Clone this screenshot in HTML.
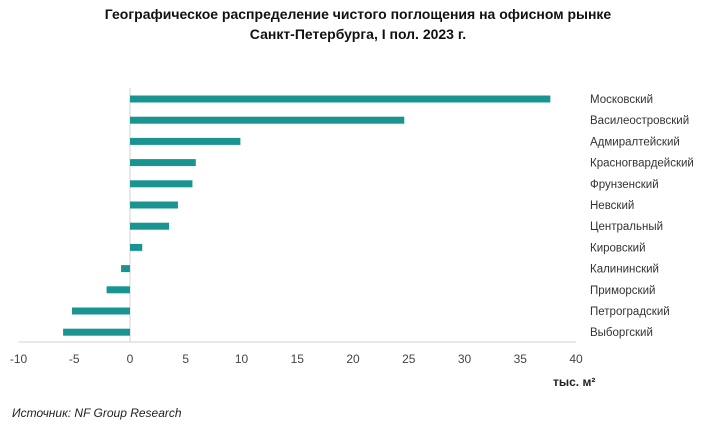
<!DOCTYPE html>
<html><head><meta charset="utf-8"><style>
body{margin:0;background:#fff;width:717px;height:426px;overflow:hidden;font-family:"Liberation Sans",sans-serif}
</style></head><body>
<svg width="717" height="426">
<text x="358" y="19" text-anchor="middle" font-size="14" font-weight="bold" fill="#111">Географическое распределение чистого поглощения на офисном рынке</text>
<text x="358" y="39" text-anchor="middle" font-size="14" font-weight="bold" fill="#111">Санкт-Петербурга, I пол. 2023 г.</text>
<g id="plot"></g>
<text x="553" y="386" font-size="12" font-weight="bold" fill="#222">тыс. м²</text>
<text x="12" y="417" font-size="12" font-style="italic" fill="#222">Источник: NF Group Research</text>
</svg>
<script>
const categories=["Московский","Василеостровский","Адмиралтейский","Красногвардейский","Фрунзенский","Невский","Центральный","Кировский","Калининский","Приморский","Петроградский","Выборгский"];
const values=[37.7,24.6,9.9,5.9,5.6,4.3,3.5,1.1,-0.8,-2.1,-5.2,-6.0];
const ticks=[-10,-5,0,5,10,15,20,25,30,35,40];
const NS="http://www.w3.org/2000/svg";
const g=document.getElementById('plot');
const x=v=>130+v*11.15;
const y=i=>99+i*21.2;
function mk(t,a){const e=document.createElementNS(NS,t);for(const k in a)e.setAttribute(k,a[k]);g.appendChild(e);return e;}
let ax=mk('line',{x1:x(-10),x2:x(40),y1:342,y2:342,stroke:'#d0d0d0'});


let zl=mk('line',{x1:x(0),x2:x(0),y1:88,y2:342,stroke:'#d0d0d0'});


ticks.forEach(t=>{const e=mk('text',{x:x(t),y:363,'text-anchor':'middle','font-size':12,fill:'#444'});e.textContent=t;

});
categories.forEach((c,i)=>{const v=values[i];
const b=mk('rect',{x:Math.min(x(0),x(v)),y:y(i)-3.5,width:Math.abs(x(v)-x(0)),height:7,fill:'#1a9490'});


const l=mk('text',{x:590,y:y(i)+4,'font-size':11.5,fill:'#333'});l.textContent=c;

});
</script>
</body></html>
